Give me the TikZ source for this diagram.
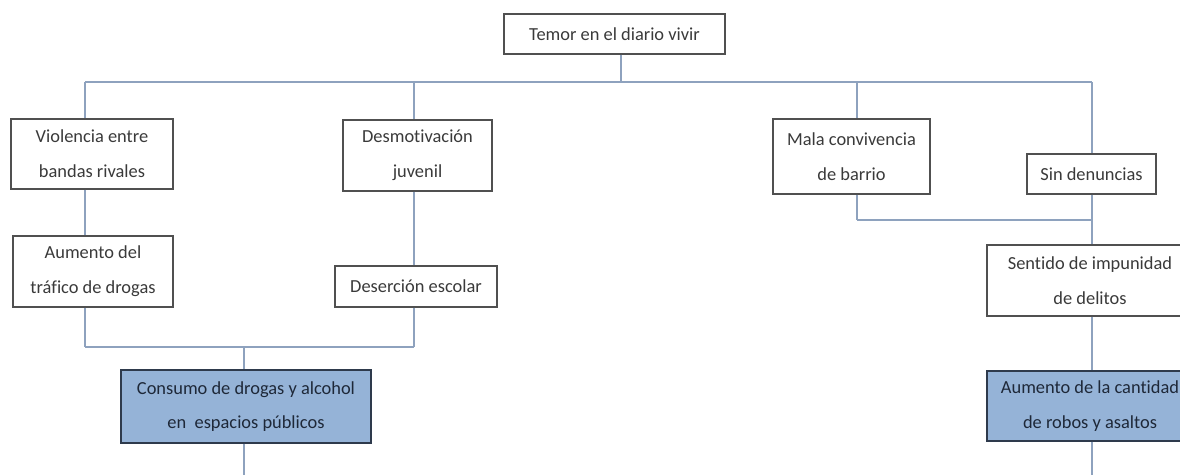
\documentclass[tikz,border=0pt]{standalone}
\usepackage{fontspec}
\setmainfont[Ligatures=NoCommon]{Carlito}
\begin{document}
\definecolor{conncol}{HTML}{8EA2BE}
\definecolor{boxline}{HTML}{505050}
\definecolor{txtcol}{HTML}{3A3A3A}
\definecolor{bluefill}{HTML}{95B3D7}
\definecolor{blueline}{HTML}{2E3A4C}
\definecolor{bluetxt}{HTML}{1E2838}
\begin{tikzpicture}[x=0.75pt,y=-0.75pt,
  box/.style={draw=boxline,line width=0.9pt,fill=white,text=txtcol,inner sep=0pt,
    align=center,font=\fontsize{13.8}{26}\selectfont},
  bluebox/.style={box,fill=bluefill,draw=blueline,text=bluetxt},
  conn/.style={draw=conncol,line width=0.8pt}]
\useasboundingbox (0,0) rectangle (1180,475);
\clip (0,0) rectangle (1180,475);
% junction coordinates
\coordinate (jT) at (621,82);
\coordinate (jL) at (85,82);
\coordinate (jD) at (414,82);
\coordinate (jM) at (857,82);
\coordinate (jR) at (1092,82);
\coordinate (b1) at (85,347);
\coordinate (b2) at (414,347);
\coordinate (b3) at (244,347);
\coordinate (m1) at (857,220);
\coordinate (m2) at (1092,220);
\coordinate (e1) at (244,475);
\coordinate (e2) at (1092,475);
% connectors (drawn first, boxes on top)
\draw[conn] (jL) -- (jR);
\draw[conn] (b1) -- (b2);
\draw[conn] (m1) -- (m2);
% nodes
\node[box,minimum width=221*0.75pt,minimum height=40*0.75pt] (top) at (614.5,34) {Temor en el diario vivir};
\node[box,minimum width=162*0.75pt,minimum height=70*0.75pt] (viol) at (92,154) {Violencia entre\\bandas rivales};
\node[box,minimum width=160*0.75pt,minimum height=71*0.75pt] (aum) at (93,271.5) {Aumento del\\tráfico de drogas};
\node[box,minimum width=149*0.75pt,minimum height=71*0.75pt] (desm) at (417.5,155.5) {Desmotivación\\juvenil};
\node[box,minimum width=162*0.75pt,minimum height=41*0.75pt] (deser) at (416,286.5) {Deserción escolar};
\node[box,minimum width=157*0.75pt,minimum height=75*0.75pt] (mala) at (851.5,156.5) {Mala convivencia\\de barrio};
\node[box,minimum width=129*0.75pt,minimum height=40*0.75pt] (sin) at (1091.5,174) {Sin denuncias};
\node[box,minimum width=206*0.75pt,minimum height=71*0.75pt] (sent) at (1090,280.5) {Sentido de impunidad\\de delitos};
\node[bluebox,minimum width=250*0.75pt,minimum height=73*0.75pt] (cons) at (246,406.5) {Consumo de drogas y alcohol\\en\ \ espacios públicos};
\node[bluebox,minimum width=206*0.75pt,minimum height=70*0.75pt] (aumc) at (1090,406) {Aumento de la cantidad\\de robos y asaltos};
% vertical connectors
\draw[conn] (top.south -| jT) -- (jT);
\draw[conn] (jL) -- (jL |- viol.north);
\draw[conn] (jL |- viol.south) -- (jL |- aum.north);
\draw[conn] (jL |- aum.south) -- (b1);
\draw[conn] (jD) -- (jD |- desm.north);
\draw[conn] (jD |- desm.south) -- (jD |- deser.north);
\draw[conn] (jD |- deser.south) -- (b2);
\draw[conn] (b3) -- (b3 |- cons.north);
\draw[conn] (b3 |- cons.south) -- (e1);
\draw[conn] (jM) -- (jM |- mala.north);
\draw[conn] (jM |- mala.south) -- (m1);
\draw[conn] (jR) -- (jR |- sin.north);
\draw[conn] (jR |- sin.south) -- (jR |- sent.north);
\draw[conn] (jR |- sent.south) -- (jR |- aumc.north);
\draw[conn] (jR |- aumc.south) -- (e2);
\end{tikzpicture}
\end{document}
